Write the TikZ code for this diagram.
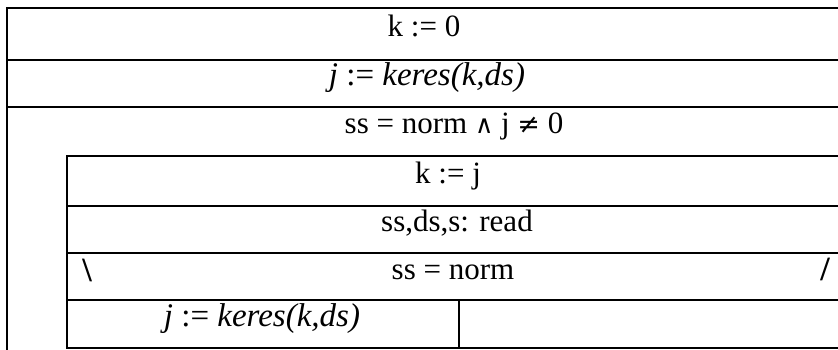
\documentclass[tikz,border=0pt]{standalone}
\usepackage{fontspec}
\setmainfont{Liberation Serif}
\newfontfamily\symf{DejaVu Serif}
\begin{document}
\begin{tikzpicture}[x=1pt,y=-1pt,
  rule/.style={line width=1.8pt, line cap=rect},
  lbl/.style={font=\fontsize{31}{36}\selectfont, inner sep=0pt, text height=0.68em, text depth=0.22em, anchor=center},
  itl/.style={lbl, font=\fontsize{33}{38}\selectfont\itshape},
  branchmark/.style={lbl, font=\fontsize{34}{38}\selectfont\bfseries}]
\useasboundingbox[fill=white] (0,0) rectangle (838,350);
% outer frame
\draw[rule] (7,350) -- (7,8) -- (838,8);
\draw[rule] (7,60) -- (838,60);
\draw[rule] (7,107) -- (838,107);
% inner loop body
\draw[rule] (67,348) -- (67,156) -- (838,156);
\draw[rule] (67,206) -- (838,206);
\draw[rule] (67,253) -- (838,253);
\draw[rule] (67,300) -- (838,300);
\draw[rule] (67,348) -- (838,348);
\draw[rule] (459,300) -- (459,348);
% texts
\node[lbl] (t1) at (424,34) {k := 0};
\node[itl] (t2) at (427,83) {j {\upshape:=} keres(k,ds)};
\node[lbl] (t3) at (454,131) {ss = norm {\symf\fontsize{25}{30}\selectfont∧} j {\symf\fontsize{27}{32}\selectfont≠} 0};
\node[lbl] (t4) at (448,181) {k := j};
\node[lbl] (t5) at (457,229) {ss,ds,s: read};
\node[lbl] (t6) at (453,277) {ss = norm};
\node[branchmark] (bs) at (87,279) {\textbackslash};
\node[branchmark] (sl) at (825,278) {/};
\node[itl] (t7) at (262,324) {j {\upshape:=} keres(k,ds)};
\end{tikzpicture}
\end{document}
